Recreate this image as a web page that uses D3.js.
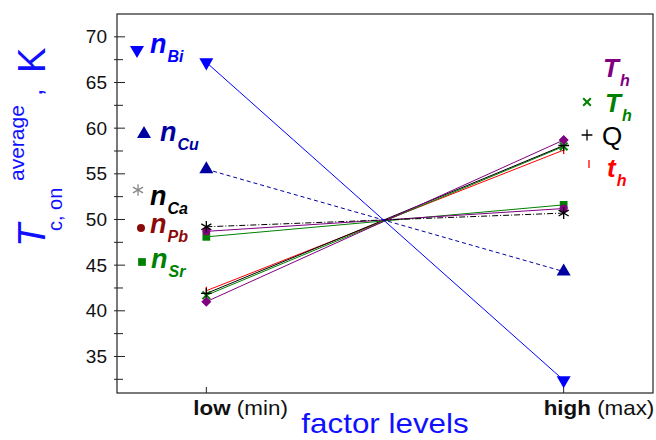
<!DOCTYPE html>
<html>
<head>
<meta charset="utf-8">
<script src="https://cdn.jsdelivr.net/npm/d3@7"></script>
<style>
  body { margin: 0; background: #fff; }
  svg { display: block; font-family: "Liberation Sans", Arial, sans-serif; }
</style>
</head>
<body>
<div id="wrapper"></div>
<script>
// factor levels (coded) and their labels
const levels = [-1, 1];
const levelBold = ["low", "high"];
const levelRest = ["(min)", "(max)"];

// series: main symbol, subscript, values at low / high level
const seriesMain = ["n", "n", "n", "n", "n", "T", "T", "Q", "t"];
const seriesSub = ["Bi", "Cu", "Ca", "Pb", "Sr", "h", "h", "", "h"];
const lowValues = [67.2, 55.5, 49.2, 48.7, 48.1, 41.0, 41.7, 41.9, 42.2];
const highValues = [32.4, 44.3, 50.7, 51.2, 51.6, 58.7, 58.0, 58.1, 57.6];

const yTicks = [35, 40, 45, 50, 55, 60, 65, 70];
const yMinorTicks = [32.5, 37.5, 42.5, 47.5, 52.5, 57.5, 62.5, 67.5];

function buildPlot() {
    const dimension = {
        width: 656,
        height: 440,
        margin: { top: 14, left: 117, bottom: 47, right: 3 }
    };
    dimension.boundedWidth = dimension.width - dimension.margin.left - dimension.margin.right;
    dimension.boundedHeight = dimension.height - dimension.margin.top - dimension.margin.bottom;

    // styles per series
    const markColor = ["#0000ff", "#0000a0", "#000000", "#800080", "#008000", "#800080", "#008000", "#000000", "#ff0000"];
    const legendColor = ["#0000ff", "#0000a0", "#000000", "#8b0a0a", "#008000", "#800080", "#008000", "#000000", "#ff0000"];
    const lineDash = [null, "4,3", "6,2,1,2", null, null, null, null, null, null];
    const shapes = ["down", "up", "asterisk", "circle", "square", "diamond", "times", "plus", "bar"];

    const svg = d3.select("#wrapper").append("svg")
        .attr("width", dimension.width)
        .attr("height", dimension.height);

    const xScaler = d3.scaleLinear()
        .domain([-1.5, 1.5])
        .range([dimension.margin.left, dimension.width - dimension.margin.right]);
    const yScaler = d3.scaleLinear()
        .domain([31, 72.5])
        .range([dimension.height - dimension.margin.bottom, dimension.margin.top]);

    const symbolPath = (shape) => {
        switch (shape) {
            case "down": return d3.symbol(d3.symbolTriangle, 85)();
            case "up": return d3.symbol(d3.symbolTriangle, 85)();
            case "asterisk": return d3.symbol(d3.symbolAsterisk, 95)();
            case "circle": return d3.symbol(d3.symbolCircle, 50)();
            case "square": return d3.symbol(d3.symbolSquare, 60)();
            case "diamond": return d3.symbol(d3.symbolSquare, 50)();
            case "times": return d3.symbol(d3.symbolTimes, 40)();
            case "plus": return d3.symbol(d3.symbolPlus, 40)();
            case "bar": return "M0,-4V4";
        }
    };
    const isStroke = (shape) => ["asterisk", "times", "plus", "bar"].includes(shape);
    const rotation = (shape) => shape === "down" ? 180 : (shape === "diamond" ? 45 : 0);

    function drawMarker(g, shape, color, x, y) {
        const p = g.append("path")
            .attr("d", symbolPath(shape))
            .attr("transform", `translate(${x},${y}) rotate(${rotation(shape)})`);
        if (isStroke(shape)) {
            p.attr("fill", "none").attr("stroke", color).attr("stroke-width", shape === "times" ? 2 : 1.3);
        } else {
            p.attr("fill", color).attr("stroke", "none");
        }
    }

    // frame
    svg.append("rect")
        .attr("x", dimension.margin.left)
        .attr("y", dimension.margin.top)
        .attr("width", dimension.boundedWidth)
        .attr("height", dimension.boundedHeight)
        .attr("fill", "none")
        .attr("stroke", "#222")
        .attr("stroke-width", 1.2);

    // y axis (labels from d3 axis, ticks cross the frame)
    const yAxis = d3.axisLeft(yScaler)
        .tickValues(yTicks)
        .tickSize(0)
        .tickPadding(10);
    const yAxisG = svg.append("g")
        .attr("transform", `translate(${dimension.margin.left},0)`)
        .call(yAxis);
    yAxisG.select(".domain").remove();
    yAxisG.selectAll("text")
        .style("font-size", "19px")
        .attr("fill", "#111");

    svg.append("g").selectAll("line")
        .data(yTicks.concat(yMinorTicks))
        .join("line")
        .attr("x1", dimension.margin.left - 3)
        .attr("x2", d => dimension.margin.left + (yTicks.includes(d) ? 8 : 6))
        .attr("y1", d => yScaler(d))
        .attr("y2", d => yScaler(d))
        .attr("stroke", "#222")
        .attr("stroke-width", 1);

    // x ticks and labels
    const bottom = dimension.height - dimension.margin.bottom;
    svg.append("g").selectAll("line")
        .data(levels)
        .join("line")
        .attr("x1", d => xScaler(d))
        .attr("x2", d => xScaler(d))
        .attr("y1", bottom)
        .attr("y2", bottom - 6)
        .attr("stroke", "#222");

    // the original is slightly stretched sideways, so the bottom texts are too
    const stretch = 1.12;
    const xLabel = svg.append("g").selectAll("text")
        .data(levels)
        .join("text")
        .attr("transform", (d, i) => `translate(${xScaler(d) - (i === 0 ? 13 : 20)},415) scale(${stretch},1)`)
        .style("font-size", "20px")
        .attr("fill", "#111");
    xLabel.append("tspan")
        .style("font-weight", "bold")
        .text((d, i) => levelBold[i]);
    xLabel.append("tspan")
        .text((d, i) => " " + levelRest[i]);

    svg.append("text")
        .attr("transform", `translate(${xScaler(0)},433) scale(${stretch},1)`)
        .attr("text-anchor", "middle")
        .style("font-size", "28px")
        .attr("fill", "#1010ff")
        .text("factor levels");

    // y title
    const blue = "#1010ff";
    svg.append("text")
        .attr("transform", "translate(45,247) rotate(-90)")
        .style("font-size", "38px")
        .style("font-style", "italic")
        .attr("fill", blue)
        .text("T");
    svg.append("text")
        .attr("transform", "translate(62,231) rotate(-90)")
        .style("font-size", "20px")
        .attr("fill", blue)
        .text("c, on");
    svg.append("text")
        .attr("transform", "translate(24,181) rotate(-90)")
        .style("font-size", "21px")
        .attr("fill", blue)
        .text("average");
    svg.append("text")
        .attr("transform", "translate(42,96) rotate(-90)")
        .style("font-size", "26px")
        .attr("fill", blue)
        .text(",");
    svg.append("text")
        .attr("transform", "translate(45,73) rotate(-90)")
        .style("font-size", "38px")
        .attr("fill", blue)
        .text("K");

    // lines
    const lineGenerator = d3.line()
        .x(d => xScaler(d[0]))
        .y(d => yScaler(d[1]));
    const order = [8, 6, 7, 5, 4, 3, 2, 1, 0];
    const lines = svg.append("g");
    order.forEach(i => {
        lines.append("path")
            .attr("d", lineGenerator([[levels[0], lowValues[i]], [levels[1], highValues[i]]]))
            .attr("fill", "none")
            .attr("stroke", markColor[i])
            .attr("stroke-width", 1)
            .attr("stroke-dasharray", lineDash[i]);
    });

    // markers
    const markers = svg.append("g");
    order.forEach(i => {
        drawMarker(markers, shapes[i], markColor[i], xScaler(levels[0]), yScaler(lowValues[i]));
        drawMarker(markers, shapes[i], markColor[i], xScaler(levels[1]), yScaler(highValues[i]));
    });

    // legend
    const legendLayout = [
        { mx: 137, my: 50, tx: 150, ty: 53, size: 27 },
        { mx: 144, my: 134, tx: 160, ty: 141, size: 27 },
        { mx: 138, my: 190, tx: 150, ty: 205, size: 27 },
        { mx: 141, my: 228, tx: 150, ty: 233, size: 27 },
        { mx: 142, my: 262, tx: 151, ty: 268, size: 27 },
        { mx: null, my: null, tx: 603, ty: 77, size: 26 },
        { mx: 587, my: 102, tx: 605, ty: 112, size: 26 },
        { mx: 587, my: 135, tx: 602, ty: 145, size: 26 },
        { mx: 589, my: 164, tx: 607, ty: 177, size: 26 }
    ];
    const legend = svg.append("g");
    legendLayout.forEach((l, i) => {
        if (l.mx !== null) {
            const c = shapes[i] === "asterisk" ? "#888" : legendColor[i];
            drawMarker(legend, shapes[i], c, l.mx, l.my);
        }
        const t = legend.append("text")
            .attr("x", l.tx)
            .attr("y", l.ty)
            .attr("fill", legendColor[i]);
        t.append("tspan")
            .style("font-size", l.size + "px")
            .style("font-weight", seriesMain[i] === "Q" ? "normal" : "bold")
            .style("font-style", seriesMain[i] === "Q" ? "normal" : "italic")
            .text(seriesMain[i]);
        if (seriesSub[i]) {
            t.append("tspan")
                .attr("dy", 9)
                .attr("dx", 1)
                .style("font-size", "16px")
                .style("font-weight", "bold")
                .style("font-style", "italic")
                .text(seriesSub[i]);
        }
    });
}

buildPlot();
</script>
</body>
</html>
